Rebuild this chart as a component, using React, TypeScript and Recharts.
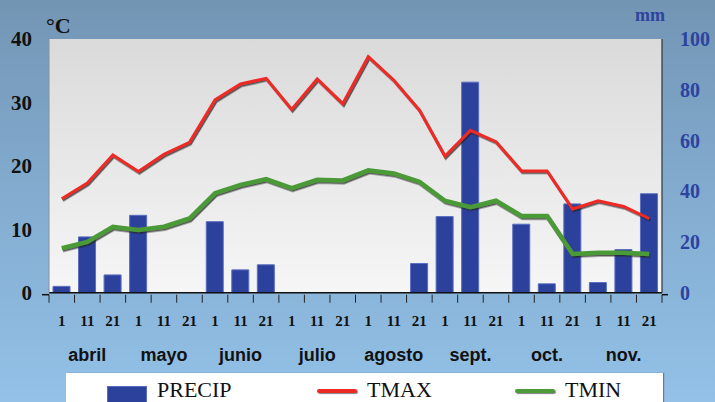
import React from 'react';
import { ComposedChart, Bar, Line, XAxis, YAxis, CartesianGrid } from 'recharts';

// Ten-day periods, April through November
const months = ['abril', 'mayo', 'junio', 'julio', 'agosto', 'sept.', 'oct.', 'nov.'];
const days = ['1', '11', '21'];

// Precipitation (mm) per ten-day period
const precip = [2.5, 22, 7, 30.5, 0, 0, 28, 9, 11, 0, 0, 0, 0, 0, 11.5, 30, 83, 0, 27, 3.5, 35, 4, 17, 39];
// Maximum temperature (°C)
const tmax = [14.8, 17.3, 21.7, 19.1, 21.8, 23.7, 30.4, 32.9, 33.8, 28.9, 33.7, 29.8, 37.2, 33.5, 28.8, 21.5, 25.6, 23.8, 19.2, 19.2, 13.2, 14.5, 13.6, 11.7];
// Minimum temperature (°C)
const tmin = [7.0, 8.0, 10.4, 9.9, 10.4, 11.7, 15.7, 17.0, 17.9, 16.5, 17.8, 17.7, 19.3, 18.8, 17.5, 14.5, 13.5, 14.5, 12.1, 12.1, 6.1, 6.3, 6.3, 6.1];

const tempTicks = [0, 10, 20, 30, 40];
const mmTicks = [0, 20, 40, 60, 80, 100];

const data = precip.map((p, i) => ({
  key: `${months[Math.floor(i / 3)]}-${days[i % 3]}`,
  month: months[Math.floor(i / 3)],
  day: days[i % 3],
  PRECIP: p,
  TMAX: tmax[i],
  TMIN: tmin[i],
}));

const serif = '"Liberation Serif", "DejaVu Serif", serif';
const sans = '"Liberation Sans", Arial, sans-serif';

const DayTick = (props: any) => {
  const { x, y, payload, index } = props;
  const half = payload && payload.offset ? payload.offset : 12.75;
  const row = data[index] || { day: '', month: '' };
  const last = index === data.length - 1;
  return (
    <g>
      <line x1={x - half} y1={y} x2={x - half} y2={y + 8} stroke="#222" strokeWidth={1} />
      {last && <line x1={x + half} y1={y} x2={x + half} y2={y + 8} stroke="#222" strokeWidth={1} />}
      {index === 0 && <line x1={x - half - 7} y1={y} x2={x - half} y2={y} stroke="#111" strokeWidth={1.5} />}
      {last && <line x1={x + half} y1={y} x2={x + half + 6} y2={y} stroke="#111" strokeWidth={1.5} />}
      <text x={x} y={y + 31} textAnchor="middle" fontFamily={serif} fontWeight="bold" fontSize={15} fill="#111">
        {row.day}
      </text>
      {index % 3 === 1 && (
        <text x={x} y={y + 66} textAnchor="middle" fontFamily={sans} fontWeight="bold" fontSize={18} fill="#111">
          {row.month}
        </text>
      )}
    </g>
  );
};

const LegendSwatch = ({ kind, color }: { kind: 'bar' | 'line'; color: string }) =>
  kind === 'bar' ? (
    <span style={{ display: 'inline-block', width: 40, height: 17, background: color, border: '1px solid #5a6cc0', boxSizing: 'border-box' }} />
  ) : (
    <span style={{ display: 'inline-block', width: 40, height: 4, background: color, borderRadius: 2, boxShadow: '1px 1px 1px rgba(0,0,0,0.5)' }} />
  );

export default function App() {
  return (
    <div
      style={{
        position: 'fixed',
        left: 0,
        top: 0,
        width: 715,
        height: 402,
        overflow: 'hidden',
        background: 'linear-gradient(180deg, #7395b4 0%, #80a8cb 40%, #93c1e7 100%)',
      }}
    >
      <ComposedChart
        width={715}
        height={402}
        data={data}
        margin={{ top: 39, right: 0, bottom: 0, left: 0 }}
      >
        <defs>
          <linearGradient id="plotBg" x1="0" y1="0" x2="0" y2="1">
            <stop offset="0%" stopColor="#dadada" />
            <stop offset="100%" stopColor="#f6f6f6" />
          </linearGradient>
          <filter id="lineShadow" x="-5%" y="-20%" width="110%" height="140%">
            <feDropShadow dx="1" dy="1.5" stdDeviation="0.7" floodColor="#222" floodOpacity="0.75" />
          </filter>
        </defs>
        <CartesianGrid horizontal={false} vertical={false} fill="url(#plotBg)" />
        <XAxis
          dataKey="key"
          height={109.3}
          interval={0}
          tickLine={false}
          tickSize={0}
          axisLine={{ stroke: '#111', strokeWidth: 1.5 }}
          tick={<DayTick />}
        />
        <YAxis
          yAxisId="t"
          orientation="left"
          width={49}
          domain={[0, 40]}
          ticks={tempTicks}
          tickLine={false}
          tickSize={0}
          tickMargin={17}
          axisLine={{ stroke: '#8a8f96', strokeWidth: 1 }}
          tick={{ fontFamily: serif, fontWeight: 'bold', fontSize: 21, fill: '#111' }}
        />
        <YAxis
          yAxisId="mm"
          orientation="right"
          width={53}
          domain={[0, 100]}
          ticks={mmTicks}
          tickLine={false}
          tickSize={0}
          tickMargin={18}
          axisLine={{ stroke: '#333', strokeWidth: 1.2 }}
          tick={{ fontFamily: serif, fontWeight: 'bold', fontSize: 20, fill: '#2d43a0' }}
        />
        <Bar
          yAxisId="mm"
          dataKey="PRECIP"
          barSize={17}
          fill="#2b419b"
          stroke="#5b6dc2"
          strokeWidth={1}
          isAnimationActive={false}
        />
        <Line
          yAxisId="t"
          dataKey="TMAX"
          type="linear"
          stroke="#ee2a25"
          strokeWidth={3}
          dot={false}
          activeDot={false}
          filter="url(#lineShadow)"
          isAnimationActive={false}
        />
        <Line
          yAxisId="t"
          dataKey="TMIN"
          type="linear"
          stroke="#4c9a39"
          strokeWidth={4.5}
          dot={false}
          activeDot={false}
          filter="url(#lineShadow)"
          isAnimationActive={false}
        />
      </ComposedChart>

      <div style={{ position: 'absolute', left: 46, top: 14, fontFamily: serif, fontWeight: 'bold', fontSize: 22, color: '#111', lineHeight: '24px' }}>°C</div>
      <div style={{ position: 'absolute', left: 635, top: 5, fontFamily: serif, fontWeight: 'bold', fontSize: 18, color: '#2d43a0', lineHeight: '20px' }}>mm</div>

      <div
        style={{
          position: 'absolute',
          left: 66,
          top: 373,
          width: 597,
          height: 40,
          background: '#fff',
          boxShadow: '1px 0 1px rgba(60,60,60,0.5)',
          fontFamily: serif,
          fontSize: 22,
          color: '#111',
        }}
      >
        <div style={{ position: 'absolute', left: 41, top: 10 }}>
          <LegendSwatch kind="bar" color="#2b419b" />
        </div>
        <div style={{ position: 'absolute', left: 91, top: 4, lineHeight: '26px' }}>PRECIP</div>
        <div style={{ position: 'absolute', left: 251, top: 13, lineHeight: 0 }}>
          <LegendSwatch kind="line" color="#ee2a25" />
        </div>
        <div style={{ position: 'absolute', left: 301, top: 4, lineHeight: '26px' }}>TMAX</div>
        <div style={{ position: 'absolute', left: 449, top: 13, lineHeight: 0 }}>
          <LegendSwatch kind="line" color="#4c9a39" />
        </div>
        <div style={{ position: 'absolute', left: 499, top: 4, lineHeight: '26px' }}>TMIN</div>
      </div>
    </div>
  );
}
